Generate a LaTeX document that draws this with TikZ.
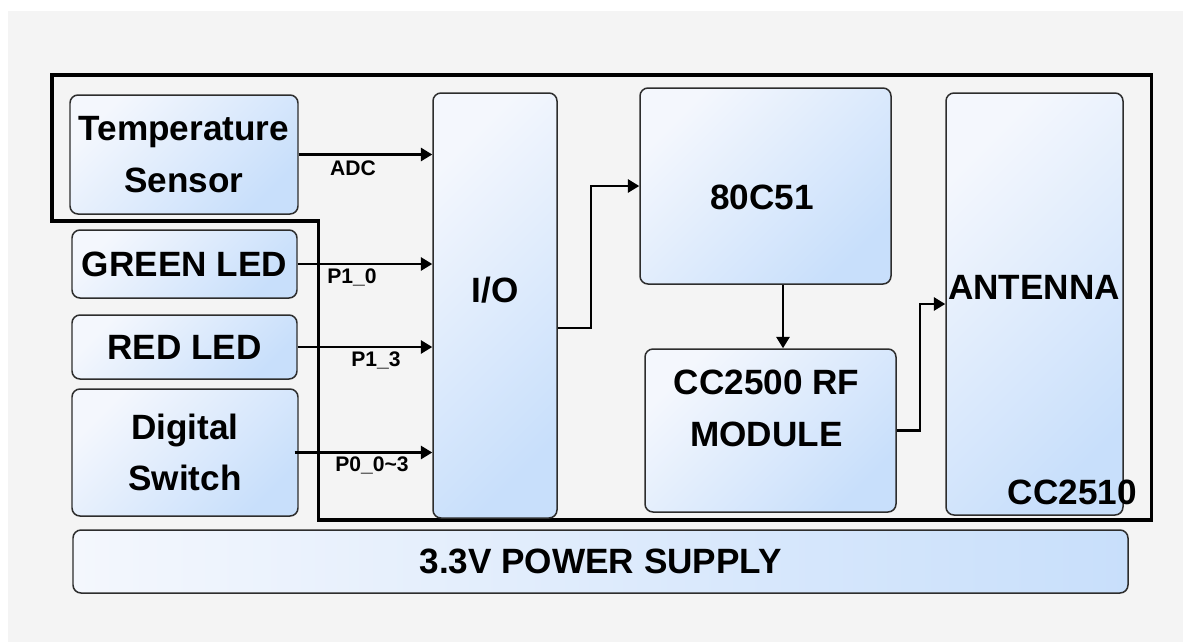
\documentclass[tikz,border=0pt]{standalone}
\usepackage{fontspec}
\setmainfont{Liberation Sans}
\usetikzlibrary{arrows.meta}
\definecolor{bggray}{RGB}{244,244,244}
\definecolor{boxlite}{RGB}{244,247,253}
\definecolor{boxblue}{RGB}{200,223,251}
\definecolor{edge}{RGB}{45,45,45}

\begin{document}
\begin{tikzpicture}[blk/.style ={draw=edge, line width=0.85pt, rounded corners=0.16cm, left color=boxlite, right color=boxblue, shading angle=45, inner sep=0pt, font=\fontsize{20}{29.5}\selectfont\bfseries, align=center},pwr/.style ={blk, shading angle=90},txt/.style ={font=\fontsize{20}{29.5}\selectfont\bfseries, align=center},lbl/.style ={font=\fontsize{12}{14}\selectfont\bfseries},arr/.style ={line width=1.35pt, -{Triangle[length=6.5pt,width=7.5pt]}},chip/.style ={line width=1.9pt, line join=miter}]

%background and margins
\fill[white] (0,0) rectangle (23.66,-12.84);
\fill[bggray] (0.16,-0.22) rectangle (23.66,-12.84);

%cc2510 outline
\draw[chip] (1.04,-1.5) -- (23.03,-1.5) -- (23.03,-10.4) -- (6.37,-10.4) -- (6.37,-4.42) -- (1.04,-4.42) -- cycle;

%peripherals
\node[blk, minimum width=4.56cm, minimum height=2.38cm] at (3.68,-3.09) (temp){Temperature\\Sensor};
\node[blk, minimum width=4.5cm, minimum height=1.36cm] at (3.69,-5.28) (gled){GREEN LED};
\node[blk, minimum width=4.5cm, minimum height=1.28cm] at (3.69,-6.94) (rled){RED LED};
\node[blk, minimum width=4.52cm, minimum height=2.54cm] at (3.70,-9.05) (dsw){Digital\\Switch};

%chip blocks
\node[blk, minimum width=2.48cm, minimum height=8.5cm] at (9.90,-6.11) (io){};
\node[txt] at (9.90,-5.8) (iotxt){I/O};
\node[blk, minimum width=5.02cm, minimum height=3.92cm] at (15.31,-3.72) (mcu){};
\node[txt] at (15.24,-3.94) (mcutxt){80C51};
\node[blk, minimum width=5.02cm, minimum height=3.26cm] at (15.41,-8.61) (rf){};
\node[txt] at (15.33,-8.16) (rftxt){CC2500 RF\\MODULE};
\node[blk, minimum width=3.54cm, minimum height=8.44cm] at (20.69,-6.08) (ant){};
\node[txt] at (20.68,-5.74) (anttxt){ANTENNA};
\node[txt, anchor=east] at (22.86,-9.84) (cctxt){CC2510};

%power supply
\node[pwr, minimum width=21.1cm, minimum height=1.26cm] at (12.01,-11.23) (psu){3.3V POWER SUPPLY};

%port arrows and labels
\draw[arr] (temp.east) -- (temp.east -| io.west);
\node[lbl] at (7.06,-3.36) (adc){ADC};
\draw[arr] (gled.east) -- (gled.east -| io.west);
\node[lbl] at (7.04,-5.54) (p10){P1\_0};
\draw[arr] (rled.east) -- (rled.east -| io.west);
\node[lbl] at (7.52,-7.2) (p13){P1\_3};
\draw[arr] ([xshift=-0.08cm]dsw.east) -- (dsw.east -| io.west);
\node[lbl] at (7.44,-9.3) (p00){P0\_0\char`\~3};

%internal arrows
\draw[arr] ([yshift=-0.45cm]io.east) -- ++(0.66,0) |- (mcu.west);
\draw[arr] ([xshift=0.35cm]mcu.south) -- ([xshift=0.35cm]mcu.south |- rf.north);
\draw[arr] (rf.east) -- ++(0.46,0) |- (ant.west);
\end{tikzpicture}
\end{document}
